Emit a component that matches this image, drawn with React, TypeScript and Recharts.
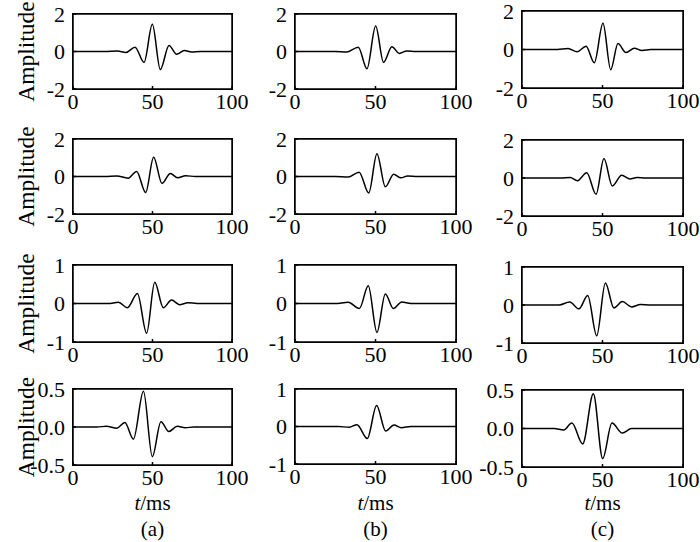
import { LineChart, Line, XAxis, YAxis, Label } from 'recharts'

const SERIF = '"Liberation Serif", "Times New Roman", Times, serif'
const INK = '#000000'

const xTicks = [0, 50, 100]
const ticks2 = [-2, 0, 2]
const ticks1 = [-1, 0, 1]
const ticksHalf = [-0.5, 0, 0.5]
const captions = ['(a)', '(b)', '(c)']

// row 1
const a1T = [0, 20, 28, 33.3, 39, 44.7, 49.9, 54.9, 60.4, 65.2, 70, 74.6, 80, 100]
const a1Y = [0, 0, 0.03, -0.05, 0.23, -0.58, 1.45, -0.96, 0.32, -0.14, 0.05, -0.02, 0, 0]
const b1T = [0, 25, 32, 39.3, 44.7, 50.1, 55, 60.2, 64.8, 69.4, 75, 100]
const b1Y = [0, 0, -0.03, 0.23, -0.92, 1.36, -0.58, 0.25, -0.1, 0.03, 0, 0]
const c1T = [0, 22, 28.6, 34.2, 39.8, 44.9, 50.3, 55.1, 59.6, 64.6, 69.8, 74.5, 80, 100]
const c1Y = [0, 0, 0.05, -0.12, 0.17, -0.69, 1.36, -1.05, 0.31, -0.16, 0.07, -0.05, 0, 0]

// row 2
const a2T = [0, 20, 27.5, 34.7, 40, 45.7, 50.7, 56, 61.2, 65.8, 70.8, 77, 100]
const a2Y = [0, 0, 0.03, -0.09, 0.27, -0.85, 1.03, -0.37, 0.16, -0.07, 0.04, 0, 0]
const b2T = [0, 25, 33, 39.8, 45.8, 50.9, 56.1, 61.3, 65.8, 70, 76, 100]
const b2Y = [0, 0, -0.03, 0.23, -0.88, 1.22, -0.55, 0.12, -0.07, 0.03, 0, 0]
const c2T = [0, 24, 30, 34.4, 40.2, 46, 50.9, 56.1, 61.9, 67.1, 71.4, 77, 100]
const c2Y = [0, 0, 0.03, -0.14, 0.28, -0.86, 1.02, -0.42, 0.14, -0.05, 0.03, 0, 0]

// row 3
const a3T = [0, 22, 28.6, 34.2, 40.5, 46.3, 51.4, 56.8, 62, 67, 72.2, 78, 100]
const a3Y = [0, 0, 0.03, -0.11, 0.26, -0.77, 0.55, -0.11, 0.09, -0.03, 0.02, 0, 0]
const b3T = [0, 25, 33, 40, 45.5, 50.9, 56.1, 61.1, 66.3, 72, 100]
const b3Y = [0, 0, 0.03, -0.13, 0.46, -0.75, 0.25, -0.13, 0.04, 0, 0]
const c3T = [0, 23, 29.6, 35.4, 40.8, 46.4, 51.8, 57.1, 62.3, 68.1, 73.5, 80, 100]
const c3Y = [0, 0, 0.08, -0.1, 0.25, -0.81, 0.58, -0.08, 0.09, -0.05, 0.01, 0, 0]

// row 4
const a4T = [0, 15, 21, 27.6, 32.6, 38, 44.3, 49.9, 55.3, 60.3, 65.6, 70.5, 76, 100]
const a4Y = [0, 0, 0.01, -0.015, 0.06, -0.16, 0.47, -0.39, 0.07, -0.06, 0.01, -0.01, 0, 0]
const b4T = [0, 27, 33.7, 38.5, 44.9, 50.7, 56.3, 61.5, 66, 72, 100]
const b4Y = [0, 0, -0.02, 0.05, -0.32, 0.56, -0.12, 0.04, -0.03, 0, 0]
const c4T = [0, 20, 25.9, 31, 37.7, 44.3, 50.1, 55.9, 62.3, 68, 100]
const c4Y = [0, 0, -0.02, 0.07, -0.2, 0.45, -0.39, 0.07, -0.06, 0, 0]

const panels = [
  { t: a1T, y: a1Y, ticks: ticks2 },
  { t: b1T, y: b1Y, ticks: ticks2 },
  { t: c1T, y: c1Y, ticks: ticks2 },
  { t: a2T, y: a2Y, ticks: ticks2 },
  { t: b2T, y: b2Y, ticks: ticks2 },
  { t: c2T, y: c2Y, ticks: ticks2 },
  { t: a3T, y: a3Y, ticks: ticks1 },
  { t: b3T, y: b3Y, ticks: ticks1 },
  { t: c3T, y: c3Y, ticks: ticks1 },
  { t: a4T, y: a4Y, ticks: ticksHalf },
  { t: b4T, y: b4Y, ticks: ticks1 },
  { t: c4T, y: c4Y, ticks: ticksHalf },
]

// plot-area layout in page pixels
const colLeft = [73, 295, 522]
const colWidth = [159, 161, 161]
const plotTop = [[14, 14, 11], [139, 139, 140], [265, 265, 267], [389, 389, 390]]
const plotH = [[75, 75, 77], [75, 75, 76], [77, 77, 76], [76, 75, 77]]

const tickStyle = { fill: '#000', fontSize: 22, fontFamily: SERIF }
const lineStyle = { stroke: INK, strokeWidth: 1.5 }

function AmpLabel(props: any) {
  const vb = props.viewBox
  const x = vb.x + 26
  const y = vb.y + vb.height / 2
  return (
    <text x={x} y={y} transform={`rotate(-90, ${x}, ${y})`} textAnchor="middle" dominantBaseline="central"
      fontFamily={SERIF} fontSize={23.5} fill="#000">Amplitude</text>
  )
}

function timeLabel(caption: string, base: number) {
  return (props: any) => {
    const vb = props.viewBox
    const cx = vb.x + vb.width / 2
    return (
      <g>
        <text x={cx} y={vb.y + base} textAnchor="middle" fontFamily={SERIF} fontSize={21} fill="#000">
          <tspan fontStyle="italic">t</tspan>/ms
        </text>
        <text x={cx} y={vb.y + base + 26} textAnchor="middle" fontFamily={SERIF} fontSize={21} fill="#000">
          {caption}
        </text>
      </g>
    )
  }
}

function Wave({ idx }: { idx: number }) {
  const p = panels[idx]
  const row = Math.floor(idx / 3)
  const col = idx % 3
  const data = p.t.map((x, i) => ({ t: x, v: p.y[i] }))
  const w = colWidth[col]
  const h = plotH[row][col]
  const top = plotTop[row][col]
  const padL = 73
  const padT = 14
  const padR = col === 2 ? 17 : 26
  const last = row === 3
  const boxTop = top - padT
  const height = last ? 542 - boxTop : padT + h + 40
  const xAxisH = height - padT - h
  const yMin = p.ticks[0]
  const yMax = p.ticks[p.ticks.length - 1]
  const half = p.ticks === ticksHalf
  return (
    <>
      <div style={{ position: 'absolute', left: colLeft[col] - padL, top: boxTop }}>
        <LineChart width={padL + w + padR} height={height} data={data}
          margin={{ top: padT - 1, right: padR - 1, bottom: 0, left: 0 }}>
          <XAxis dataKey="t" type="number" domain={[0, 100]} ticks={xTicks} interval={0}
            stroke={INK} axisLine={lineStyle} tickLine={lineStyle} tick={tickStyle}
            tickSize={-3} tickMargin={7} height={xAxisH}>
            {last && <Label content={timeLabel(captions[col], 510 - (top + h))} />}
          </XAxis>
          <XAxis xAxisId="top" orientation="top" type="number" domain={[0, 100]} ticks={xTicks}
            interval={0} stroke={INK} axisLine={lineStyle} tickLine={lineStyle} tick={false}
            tickSize={-3} height={1} />
          <YAxis type="number" domain={[yMin, yMax]} ticks={p.ticks} interval={0} stroke={INK}
            axisLine={lineStyle} tickLine={lineStyle} tick={tickStyle} tickSize={-3} tickMargin={11}
            width={padL} tickFormatter={(v: number) => (half ? v.toFixed(1) : String(v))}>
            {col === 0 && <Label content={AmpLabel} />}
          </YAxis>
          <YAxis yAxisId="right" orientation="right" type="number" domain={[yMin, yMax]}
            ticks={p.ticks} interval={0} stroke={INK} axisLine={lineStyle} tickLine={lineStyle}
            tick={false} tickSize={-3} width={1} />
          <Line type="monotone" dataKey="v" stroke="#000" strokeWidth={1.5} dot={false}
            isAnimationActive={false} />
        </LineChart>
      </div>
      {/* plot frame */}
      <div style={{
        position: 'absolute', left: colLeft[col] - 1, top: top - 1, width: w + 2, height: h + 2,
        border: '1px solid #000', boxSizing: 'border-box', pointerEvents: 'none',
      }} />
    </>
  )
}

export default function App() {
  return (
    <div style={{ position: 'absolute', left: 0, top: 0, width: 700, height: 542, overflow: 'hidden', background: '#fff' }}>
      {panels.map((_, i) => (
        <Wave key={i} idx={i} />
      ))}
    </div>
  )
}
